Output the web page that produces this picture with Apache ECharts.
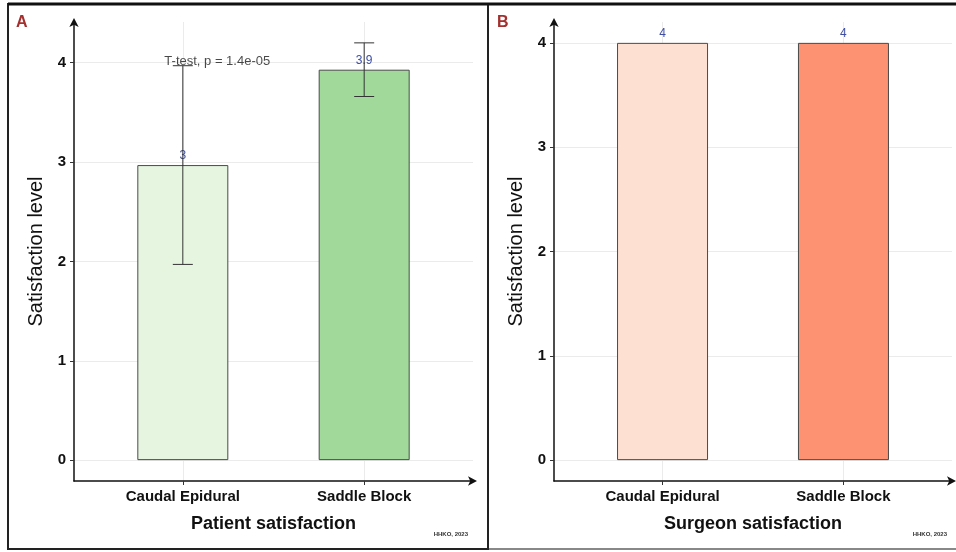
<!DOCTYPE html>
<html><head><meta charset="utf-8">
<script src="https://cdn.jsdelivr.net/npm/echarts@6/dist/echarts.min.js"></script>
<style>html,body{margin:0;padding:0;background:#fff}#c{width:956px;height:552px}</style>
</head><body><div id="c"></div>
<script>
// ---- data ----
const categories = ['Caudal Epidural', 'Saddle Block'];
const patientMeans = [2.97, 3.93];
const patientLabels = ['3', '3.9'];
const patientErrLow = [1.97, 3.66];
const patientErrHigh = [3.97, 4.2];
const surgeonMeans = [4, 4];
const surgeonLabels = ['4', '4'];
const yTicks = [0, 1, 2, 3, 4];
const testText = ['T-test, p = 1.4e-05'];
const testPos = [[0.19, 4.01]];
const panelTitles = ['Patient satisfaction', 'Surgeon satisfaction'];
const yName = 'Satisfaction level';
const credit = 'HHKO, 2023';

// ---- styles ----
const FONT = '"Liberation Sans", Arial, sans-serif';
const greenFill = ['#e5f5e0', '#a1d99b'];
const redFill = ['#fee0d2', '#fc9272'];
const gridColor = '#ebebeb';
const labelBlue = '#3e4fa5';

const chart = echarts.init(document.getElementById('c'));

function xAxisCfg(idx, name) {
  return {
    gridIndex: idx, type: 'value', min: -0.6, max: 1.6,
    name: name, nameLocation: 'middle', nameGap: 34,
    nameTextStyle: {fontFamily: FONT, fontSize: 18, fontWeight: 'bold', color: '#111'},
    axisLine: {onZero: false, show: true, symbol: ['none', 'arrow'], symbolSize: [7, 9], symbolOffset: [0, 4],
      lineStyle: {color: '#111', width: 1.5}},
    axisTick: {show: true, customValues: categories.map((c, i) => i), length: 4, lineStyle: {color: '#333'}},
    axisLabel: {customValues: categories.map((c, i) => i), formatter: v => categories[Math.round(v)] || '',
      fontFamily: FONT, fontSize: 15, fontWeight: 'bold', color: '#111', margin: 8},
    splitLine: {show: false}
  };
}
function yAxisCfg(idx, min, max) {
  return {
    gridIndex: idx, type: 'value', min: min, max: max,
    name: yName, nameLocation: 'middle', nameGap: 28, nameRotate: 90,
    nameTextStyle: {fontFamily: FONT, fontSize: 20, color: '#111'},
    axisLine: {onZero: false, show: true, symbol: ['none', 'arrow'], symbolSize: [7, 9], symbolOffset: [0, 4],
      lineStyle: {color: '#111', width: 1.5}},
    axisTick: {show: true, customValues: yTicks, length: 4, lineStyle: {color: '#333'}},
    axisLabel: {customValues: yTicks, fontFamily: FONT, fontSize: 15, fontWeight: 'bold', color: '#111', margin: 8},
    splitLine: {show: false}
  };
}
function gridLines(idx) {
  return {
    type: 'line', xAxisIndex: idx, yAxisIndex: idx, data: [], silent: true, z: 0,
    markLine: {
      silent: true, z: 0, symbol: ['none', 'none'], label: {show: false},
      lineStyle: {color: gridColor, type: 'solid', width: 1},
      data: yTicks.map(v => ({yAxis: v})).concat(categories.map((c, i) => ({xAxis: i})))
    }
  };
}
function bars(idx, means, labels, fills) {
  return {
    type: 'bar', xAxisIndex: idx, yAxisIndex: idx, barWidth: 91, z: 2,
    data: means.map((v, i) => ({value: [i, v], itemStyle: {color: fills[i]}})),
    itemStyle: {borderColor: '#4a4a4a', borderWidth: 1},
    label: {show: true, position: 'top', distance: 3, formatter: p => labels[p.dataIndex],
      color: labelBlue, fontFamily: FONT, fontSize: 12}
  };
}

const option = {
  animation: false,
  backgroundColor: '#fff',
  grid: [
    {left: 74, right: 483, top: 22, bottom: 71},
    {left: 554, right: 4, top: 22, bottom: 71}
  ],
  xAxis: [xAxisCfg(0, panelTitles[0]), xAxisCfg(1, panelTitles[1])],
  yAxis: [yAxisCfg(0, -0.21, 4.41), yAxisCfg(1, -0.2, 4.2)],
  title: [
    {text: 'A', left: 11, top: 10, textStyle: {fontFamily: FONT, fontSize: 16, fontWeight: 'bold', color: '#a3302f'}},
    {text: 'B', left: 492, top: 10, textStyle: {fontFamily: FONT, fontSize: 16, fontWeight: 'bold', color: '#a3302f'}},
    {text: credit, right: 483, top: 526, textStyle: {fontFamily: FONT, fontSize: 6, fontWeight: 'bold', color: '#333'}},
    {text: credit, right: 4, top: 526, textStyle: {fontFamily: FONT, fontSize: 6, fontWeight: 'bold', color: '#333'}}
  ],
  graphic: [
    {type: 'rect', shape: {x: 8, y: 4, width: 480, height: 545}, style: {fill: 'none', stroke: '#222', lineWidth: 2}, z: 100},
    {type: 'rect', shape: {x: 488, y: 4, width: 470, height: 545}, style: {fill: 'none', stroke: '#888', lineWidth: 2}, z: 99},
    {type: 'line', shape: {x1: 8, y1: 4, x2: 956, y2: 4}, style: {stroke: '#111', lineWidth: 3}, z: 101}
  ],
  series: [
    gridLines(0),
    gridLines(1),
    bars(0, patientMeans, patientLabels, greenFill),
    bars(1, surgeonMeans, surgeonLabels, redFill),
    {
      type: 'custom', xAxisIndex: 0, yAxisIndex: 0, z: 5,
      data: categories.map((c, i) => [i, patientErrLow[i], patientErrHigh[i]]),
      renderItem: function (params, api) {
        const x = api.value(0);
        const lo = api.coord([x, api.value(1)]);
        const hi = api.coord([x, api.value(2)]);
        const hw = 10;
        const st = {stroke: '#333', lineWidth: 1};
        return {type: 'group', children: [
          {type: 'line', shape: {x1: lo[0], y1: lo[1], x2: hi[0], y2: hi[1]}, style: st},
          {type: 'line', shape: {x1: lo[0] - hw, y1: lo[1], x2: lo[0] + hw, y2: lo[1]}, style: st},
          {type: 'line', shape: {x1: hi[0] - hw, y1: hi[1], x2: hi[0] + hw, y2: hi[1]}, style: st}
        ]};
      }
    },
    {
      type: 'scatter', xAxisIndex: 0, yAxisIndex: 0, symbolSize: 0, z: 6,
      data: testPos,
      label: {show: true, position: 'inside', formatter: p => testText[p.dataIndex],
        fontFamily: FONT, fontSize: 13, color: '#1a1a1a'}
    }
  ]
};
chart.setOption(option);
</script></body></html>
